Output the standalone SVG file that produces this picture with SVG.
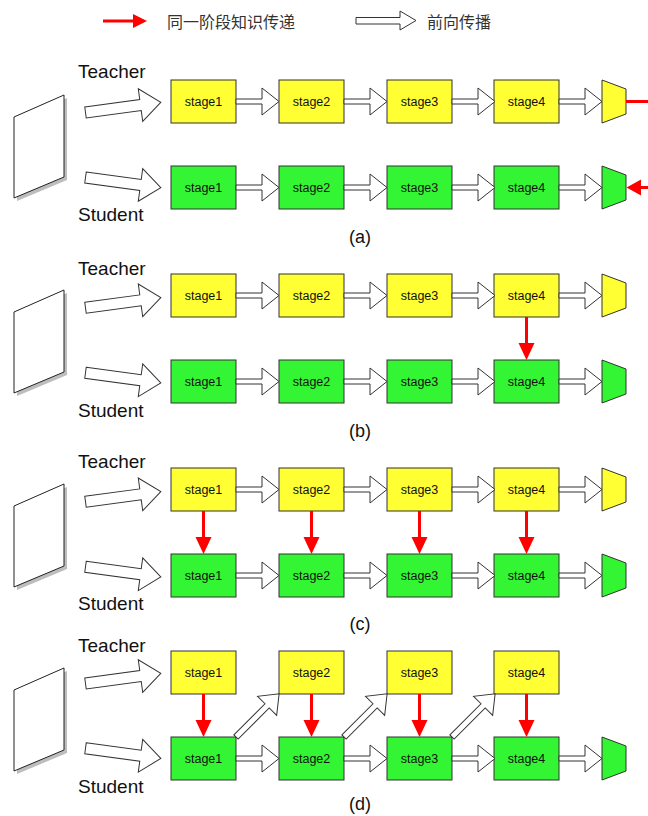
<svg xmlns="http://www.w3.org/2000/svg" xmlns:xlink="http://www.w3.org/1999/xlink" width="648" height="816" viewBox="0 0 648 816">
<style>
.box{stroke:#333;stroke-width:1}
.ty{fill:#FFFF33}
.gr{fill:#33F533}
.lbl{font-family:"Liberation Sans",Arial,sans-serif;font-size:12.5px;text-anchor:middle;fill:#111}
.role{font-family:"Liberation Sans",Arial,sans-serif;font-size:19px;fill:#111}
.cap{font-family:"Liberation Sans",Arial,sans-serif;font-size:18px;text-anchor:middle;fill:#111}
.leg{font-family:"Noto Sans CJK SC",sans-serif;font-size:16px;fill:#333}
.hol{fill:#fff;stroke:#333;stroke-width:1}
.red{stroke:#f00;stroke-width:3;fill:none}
.redf{fill:#f00}
.plane{fill:#fff;stroke:#222;stroke-width:1}
.shadow{fill:#bdbdbd}
</style>
<defs>
<path id="ha" class="hol" d="M0,-2.5 H26 V-13.5 L43,0 L26,13.5 V2.5 H0 Z"/>
<path id="da" class="hol" d="M0,-3 H44 V-13.5 L61,0 L44,13.5 V3 H0 Z" transform="rotate(-45)"/>
<path id="ia" class="hol" d="M0,-5.5 H55.5 V-16.5 L76,0 L55.5,16.5 V5.5 H0 Z"/>
<g id="rd"><line class="red" x1="0" y1="0" x2="0" y2="27"/><polygon class="redf" points="-8,26 8,26 0,43"/></g>
<g id="pl"><polygon class="shadow" points="17,120 67,98 67,180 17,201"/><polygon class="plane" points="14,117 64,95 64,177 14,198"/></g>
<polygon id="tz" class="box" points="0,0 24,9 24,34 0,43"/>
</defs>

<g id="legend">
<line class="red" x1="103" y1="21" x2="134" y2="21"/>
<polygon class="redf" points="133,14 133,28 147,21"/>
<text class="leg" x="167" y="28">同一阶段知识传递</text>
<path class="hol" d="M356,17.5 H400 V11 L416,20.5 L400,30 V24 H356 Z"/>
<text class="leg" x="427" y="28">前向传播</text>
</g>

<!-- Panel (a) -->
<g id="a-image"><use href="#pl"/></g>
<text class="role" x="78" y="78">Teacher</text>
<text class="role" x="78" y="221">Student</text>
<g id="a-t1" transform="translate(171,80)"><rect class="box ty" width="65" height="43"/><text class="lbl" x="32.5" y="25.5">stage1</text></g>
<g id="a-t2" transform="translate(279,80)"><rect class="box ty" width="65" height="43"/><text class="lbl" x="32.5" y="25.5">stage2</text></g>
<g id="a-t3" transform="translate(387,80)"><rect class="box ty" width="65" height="43"/><text class="lbl" x="32.5" y="25.5">stage3</text></g>
<g id="a-t4" transform="translate(494,80)"><rect class="box ty" width="65" height="43"/><text class="lbl" x="32.5" y="25.5">stage4</text></g>
<g id="a-tout"><use href="#tz" class="ty" x="602" y="80"/></g>
<g id="a-s1" transform="translate(171,166)"><rect class="box gr" width="65" height="43"/><text class="lbl" x="32.5" y="25.5">stage1</text></g>
<g id="a-s2" transform="translate(279,166)"><rect class="box gr" width="65" height="43"/><text class="lbl" x="32.5" y="25.5">stage2</text></g>
<g id="a-s3" transform="translate(387,166)"><rect class="box gr" width="65" height="43"/><text class="lbl" x="32.5" y="25.5">stage3</text></g>
<g id="a-s4" transform="translate(494,166)"><rect class="box gr" width="65" height="43"/><text class="lbl" x="32.5" y="25.5">stage4</text></g>
<g id="a-sout"><use href="#tz" class="gr" x="602" y="166"/></g>
<text class="cap" x="360" y="243">(a)</text>

<!-- Panel (b) -->
<g id="b-image" transform="translate(0,195)"><use href="#pl"/></g>
<text class="role" x="78" y="275">Teacher</text>
<text class="role" x="78" y="416.5">Student</text>
<g id="b-t1" transform="translate(171,274)"><rect class="box ty" width="65" height="43"/><text class="lbl" x="32.5" y="25.5">stage1</text></g>
<g id="b-t2" transform="translate(279,274)"><rect class="box ty" width="65" height="43"/><text class="lbl" x="32.5" y="25.5">stage2</text></g>
<g id="b-t3" transform="translate(387,274)"><rect class="box ty" width="65" height="43"/><text class="lbl" x="32.5" y="25.5">stage3</text></g>
<g id="b-t4" transform="translate(494,274)"><rect class="box ty" width="65" height="43"/><text class="lbl" x="32.5" y="25.5">stage4</text></g>
<g id="b-tout"><use href="#tz" class="ty" x="602" y="274"/></g>
<g id="b-s1" transform="translate(171,360)"><rect class="box gr" width="65" height="43"/><text class="lbl" x="32.5" y="25.5">stage1</text></g>
<g id="b-s2" transform="translate(279,360)"><rect class="box gr" width="65" height="43"/><text class="lbl" x="32.5" y="25.5">stage2</text></g>
<g id="b-s3" transform="translate(387,360)"><rect class="box gr" width="65" height="43"/><text class="lbl" x="32.5" y="25.5">stage3</text></g>
<g id="b-s4" transform="translate(494,360)"><rect class="box gr" width="65" height="43"/><text class="lbl" x="32.5" y="25.5">stage4</text></g>
<g id="b-sout"><use href="#tz" class="gr" x="602" y="360"/></g>
<text class="cap" x="360" y="437">(b)</text>

<!-- Panel (c) -->
<g id="c-image" transform="translate(0,389)"><use href="#pl"/></g>
<text class="role" x="78" y="468">Teacher</text>
<text class="role" x="78" y="610">Student</text>
<g id="c-t1" transform="translate(171,468)"><rect class="box ty" width="65" height="43"/><text class="lbl" x="32.5" y="25.5">stage1</text></g>
<g id="c-t2" transform="translate(279,468)"><rect class="box ty" width="65" height="43"/><text class="lbl" x="32.5" y="25.5">stage2</text></g>
<g id="c-t3" transform="translate(387,468)"><rect class="box ty" width="65" height="43"/><text class="lbl" x="32.5" y="25.5">stage3</text></g>
<g id="c-t4" transform="translate(494,468)"><rect class="box ty" width="65" height="43"/><text class="lbl" x="32.5" y="25.5">stage4</text></g>
<g id="c-tout"><use href="#tz" class="ty" x="602" y="468"/></g>
<g id="c-s1" transform="translate(171,554)"><rect class="box gr" width="65" height="43"/><text class="lbl" x="32.5" y="25.5">stage1</text></g>
<g id="c-s2" transform="translate(279,554)"><rect class="box gr" width="65" height="43"/><text class="lbl" x="32.5" y="25.5">stage2</text></g>
<g id="c-s3" transform="translate(387,554)"><rect class="box gr" width="65" height="43"/><text class="lbl" x="32.5" y="25.5">stage3</text></g>
<g id="c-s4" transform="translate(494,554)"><rect class="box gr" width="65" height="43"/><text class="lbl" x="32.5" y="25.5">stage4</text></g>
<g id="c-sout"><use href="#tz" class="gr" x="602" y="554"/></g>
<text class="cap" x="360" y="630">(c)</text>

<!-- Panel (d) -->
<g id="d-image" transform="translate(0,573)"><use href="#pl"/></g>
<text class="role" x="78" y="652">Teacher</text>
<text class="role" x="78" y="793">Student</text>
<g id="d-t1" transform="translate(171,651)"><rect class="box ty" width="65" height="43"/><text class="lbl" x="32.5" y="25.5">stage1</text></g>
<g id="d-t2" transform="translate(279,651)"><rect class="box ty" width="65" height="43"/><text class="lbl" x="32.5" y="25.5">stage2</text></g>
<g id="d-t3" transform="translate(387,651)"><rect class="box ty" width="65" height="43"/><text class="lbl" x="32.5" y="25.5">stage3</text></g>
<g id="d-t4" transform="translate(494,651)"><rect class="box ty" width="65" height="43"/><text class="lbl" x="32.5" y="25.5">stage4</text></g>
<g id="d-s1" transform="translate(171,737)"><rect class="box gr" width="65" height="43"/><text class="lbl" x="32.5" y="25.5">stage1</text></g>
<g id="d-s2" transform="translate(279,737)"><rect class="box gr" width="65" height="43"/><text class="lbl" x="32.5" y="25.5">stage2</text></g>
<g id="d-s3" transform="translate(387,737)"><rect class="box gr" width="65" height="43"/><text class="lbl" x="32.5" y="25.5">stage3</text></g>
<g id="d-s4" transform="translate(494,737)"><rect class="box gr" width="65" height="43"/><text class="lbl" x="32.5" y="25.5">stage4</text></g>
<text class="cap" x="360" y="810">(d)</text>

<g id="connectors">
<!-- input arrows -->
<use href="#ia" transform="translate(85.5,112.5) rotate(-7.7)"/>
<use href="#ia" transform="translate(85.5,177.5) rotate(7.7)"/>
<use href="#ia" transform="translate(85.5,307.8) rotate(-7.7)"/>
<use href="#ia" transform="translate(85.5,372.8) rotate(7.7)"/>
<use href="#ia" transform="translate(85.5,501.8) rotate(-7.7)"/>
<use href="#ia" transform="translate(85.5,566.8) rotate(7.7)"/>
<use href="#ia" transform="translate(85.5,683.5) rotate(-7.7)"/>
<use href="#ia" transform="translate(85.5,748.3) rotate(7.7)"/>
<!-- (a) forward -->
<use href="#ha" x="236" y="101.5"/><use href="#ha" x="344" y="101.5"/><use href="#ha" x="452" y="101.5"/><use href="#ha" x="559" y="101.5"/>
<use href="#ha" x="236" y="187.5"/><use href="#ha" x="344" y="187.5"/><use href="#ha" x="452" y="187.5"/><use href="#ha" x="559" y="187.5"/>
<!-- (a) output-level transfer -->
<line class="red" x1="626" y1="101.5" x2="648" y2="101.5"/>
<line class="red" x1="640" y1="187.5" x2="648" y2="187.5"/>
<polygon class="redf" points="641,179.5 641,195.5 626.5,187.5"/>
<!-- (b) forward -->
<use href="#ha" x="236" y="295.5"/><use href="#ha" x="344" y="295.5"/><use href="#ha" x="452" y="295.5"/><use href="#ha" x="559" y="295.5"/>
<use href="#ha" x="236" y="381.5"/><use href="#ha" x="344" y="381.5"/><use href="#ha" x="452" y="381.5"/><use href="#ha" x="559" y="381.5"/>
<use href="#rd" x="526.5" y="317"/>
<!-- (c) forward -->
<use href="#ha" x="236" y="489.5"/><use href="#ha" x="344" y="489.5"/><use href="#ha" x="452" y="489.5"/><use href="#ha" x="559" y="489.5"/>
<use href="#ha" x="236" y="575.5"/><use href="#ha" x="344" y="575.5"/><use href="#ha" x="452" y="575.5"/><use href="#ha" x="559" y="575.5"/>
<use href="#rd" x="203.5" y="511"/><use href="#rd" x="311.5" y="511"/><use href="#rd" x="419.5" y="511"/><use href="#rd" x="526.5" y="511"/>
<!-- (d) -->
<use href="#ha" x="236" y="758.5"/><use href="#ha" x="344" y="758.5"/><use href="#ha" x="452" y="758.5"/><use href="#ha" x="559" y="758.5"/>
<use href="#da" x="236" y="737"/><use href="#da" x="344" y="737"/><use href="#da" x="452" y="737"/>
<use href="#rd" x="203.5" y="694"/><use href="#rd" x="311.5" y="694"/><use href="#rd" x="419.5" y="694"/><use href="#rd" x="526.5" y="694"/>
</g>
<g id="d-sout"><use href="#tz" class="gr" x="602" y="737"/></g>
</svg>
